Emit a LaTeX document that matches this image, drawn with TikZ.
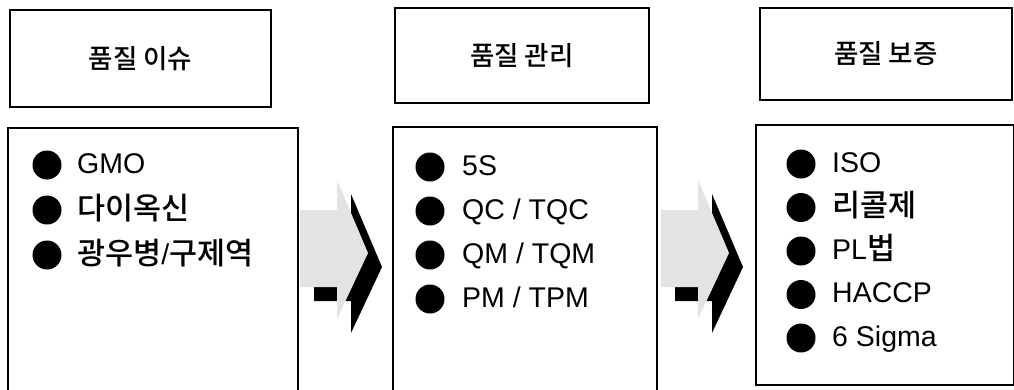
\documentclass[tikz,border=0pt]{standalone}
\usepackage{fontspec}
\setmainfont{Liberation Sans}
\newfontfamily\krm{Noto Sans CJK KR Medium}
\newcommand{\hk}[1]{{\krm\fontsize{30.5}{34}\selectfont #1}}
\tikzset{
  hdr/.style={draw, line width=1.6pt, inner sep=0pt, font=\krm\fontsize{26.5}{30}\selectfont},
  bodybox/.style={draw, line width=2pt, inner sep=0pt},
  dotmark/.style={circle, fill=black, minimum size=29pt, inner sep=0pt},
  item/.style={anchor=base west, inner sep=0pt, font=\fontsize{28.5}{32}\selectfont},
  frontarrow/.style={fill=gray!22},
  shadowarrow/.style={fill=black}
}
\begin{document}
\begin{tikzpicture}[x=1pt,y=-1pt]
\clip (0,0) rectangle (1014,389);
% header boxes
\node[hdr, minimum width=261pt, minimum height=97pt] (h1) at (140.5,58.5) {\raisebox{3pt}{품질 이슈}};
\node[hdr, minimum width=254pt, minimum height=95pt] (h2) at (522,55.5) {\raisebox{1pt}{품질 관리}};
\node[hdr, minimum width=252pt, minimum height=92pt] (h3) at (886,54) {\raisebox{2pt}{품질 보증}};
% body boxes (open at the bottom for the first two)
\node[bodybox, minimum width=290pt, minimum height=280pt] (b1) at (153,268) {};
\node[bodybox, minimum width=264pt, minimum height=280pt] (b2) at (525,267) {};
\node[bodybox, minimum width=258pt, minimum height=260pt] (b3) at (885,255) {};
% arrows
\foreach \ox/\nm in {300/a1, 661/a2}{
  \coordinate (\nm) at (\ox,180);
  \fill[shadowarrow, shift={(\nm)}] (14,44) -- (51,44) -- (51,14) -- (82,87) -- (51,153) -- (51,121) -- (14,121) -- cycle;
  \fill[frontarrow, shift={(\nm)}] (0,30) -- (37,30) -- (37,0) -- (68,73) -- (37,139) -- (37,107) -- (0,107) -- cycle;
}
% items box 1
\node[dotmark] (d11) at (47,165) {};
\node[item] (t11) at (77,173) {GMO};
\node[dotmark] (d12) at (47,210) {};
\node[item] (t12) at (77,219) {\hk{다이옥신}};
\node[dotmark] (d13) at (47,255) {};
\node[item] (t13) at (77,264) {\hk{광우병}/\hk{구제역}};
% items box 2
\node[dotmark] (d21) at (430,167) {};
\node[item] (t21) at (462,175) {5S};
\node[dotmark] (d22) at (430,211) {};
\node[item] (t22) at (462,219) {QC / TQC};
\node[dotmark] (d23) at (430,255) {};
\node[item] (t23) at (462,263) {QM / TQM};
\node[dotmark] (d24) at (430,299) {};
\node[item] (t24) at (462,307) {PM / TPM};
% items box 3
\node[dotmark] (d31) at (801,164) {};
\node[item] (t31) at (832,172) {ISO};
\node[dotmark] (d32) at (801,207.5) {};
\node[item] (t32) at (832,216.5) {\hk{리콜제}};
\node[dotmark] (d33) at (801,251) {};
\node[item] (t33) at (832,259) {PL\hk{법}};
\node[dotmark] (d34) at (801,294.5) {};
\node[item] (t34) at (832,302.5) {HACCP};
\node[dotmark] (d35) at (801,338) {};
\node[item] (t35) at (832,346) {6 Sigma};
\end{tikzpicture}
\end{document}
